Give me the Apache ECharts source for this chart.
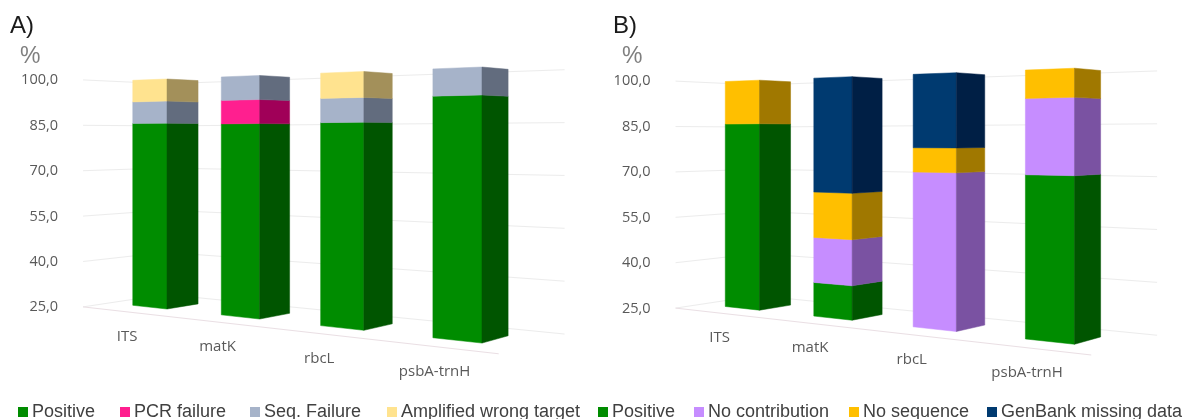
<!DOCTYPE html>
<html>
<head>
<meta charset="utf-8">
<style>
  html, body { margin: 0; padding: 0; background: #fff; }
  #main { width: 1189px; height: 419px; }
</style>
<script src="https://cdn.jsdelivr.net/npm/echarts@6/dist/echarts.min.js"></script>
</head>
<body>
<div id="main"></div>
<script>
// data
const categories = ['ITS', 'matK', 'rbcL', 'psbA-trnH']
const tickValues = [25, 40, 55, 70, 85, 100]

// panel A
const positiveA = [85.6, 85.2, 85.3, 92.4]
const pcrFailureA = [0, 7.4, 0, 0]
const seqFailureA = [7.2, 7.4, 7.2, 7.6]
const wrongTargetA = [7.2, 0, 7.5, 0]

// panel B
const positiveB = [85.8, 35.6, 0, 70.8]
const noContributionB = [0, 14.2, 71, 21.3]
const noSequenceB = [14.2, 14.3, 7.2, 7.9]
const genBankMissingB = [0, 35.9, 21.8, 0]

// front / side colours per segment
const colors = {
    'Positive': ['#008c00', '#005500'],
    'PCR failure': ['#ff1f8f', '#a00058'],
    'Seq. Failure': ['#a6b3c9', '#626c7e'],
    'Amplified wrong target': ['#ffe38f', '#a3905a'],
    'No contribution': ['#c68dff', '#7a52a2'],
    'No sequence': ['#ffbf00', '#a07800'],
    'GenBank missing data': ['#003a70', '#001f45']
}

// 3d look: perspective fitted on the picture, u runs along the categories, v goes into depth
const BAND = 78.2, X0 = 167, BAR_U = 0.4
const FLOOR = { uMin: -0.676, uMax: 3.3, vFront: -0.81, vBack: 1.79 }

function project(panel, pos, du, v) {
    const X = pos[0] - panel.ox + BAND * du
    const u = (X - X0) / BAND
    const Y = 79 + (pos[1] - panel.oy - 80) * 230 / 227.3
    const w = 1 - 0.0556 * u + 0.03 * v
    return [(X + 37 * v) / w + panel.ox, (Y - 7.72 * u + 4 * v) / w + panel.oy]
}

// one stacked segment as two faces
function barItem(panel, name) {
    return function (params, api) {
        const i = api.value(0), from = api.value(1), to = api.value(2)
        if (to <= from) return null
        const a = api.coord([i, from]), b = api.coord([i, to])
        const frontPts = [project(panel, a, -BAR_U, 0), project(panel, a, 0, 0), project(panel, b, 0, 0), project(panel, b, -BAR_U, 0)]
        const sidePts = [project(panel, a, 0, 0), project(panel, a, 0, 1), project(panel, b, 0, 1), project(panel, b, 0, 0)]
        const c = colors[name]
        return {
            type: 'group',
            children: [
                { type: 'polygon', shape: { points: frontPts }, style: { fill: c[0], stroke: c[0], lineWidth: 0.5 } },
                { type: 'polygon', shape: { points: sidePts }, style: { fill: c[1], stroke: c[1], lineWidth: 0.5 } }
            ]
        }
    }
}

// wall grid lines and the front edge of the floor
function wallItem(panel) {
    return function (params, api) {
        const val = api.value(0)
        const p = api.coord([0, val])
        const kids = [{
            type: 'polyline',
            shape: { points: [
                project(panel, p, FLOOR.uMin, FLOOR.vFront),
                project(panel, p, FLOOR.uMin, FLOOR.vBack),
                project(panel, p, FLOOR.uMax, FLOOR.vBack)
            ] },
            style: { fill: 'none', stroke: '#ececec', lineWidth: 1 }
        }]
        if (val === tickValues[0]) {
            kids.push({
                type: 'line',
                shape: (function () {
                    const s = project(panel, p, FLOOR.uMin, FLOOR.vFront), e = project(panel, p, FLOOR.uMax, FLOOR.vFront)
                    return { x1: s[0], y1: s[1], x2: e[0], y2: e[1] }
                })(),
                style: { stroke: '#eadfe4', lineWidth: 1 }
            })
        }
        return { type: 'group', children: kids }
    }
}

// category names lie along the floor
function labelItem(panel) {
    return function (params, api) {
        const i = api.value(0)
        const p = project(panel, api.coord([i, tickValues[0]]), -0.035 * i, -1.2)
        return {
            type: 'text',
            x: p[0], y: p[1] + 21,
            style: { text: categories[i], fill: '#595959', font: '15px "Open Sans"', align: 'center', verticalAlign: 'middle' }
        }
    }
}

// running total per category gives from/to of each segment
function stackSeries(panel, idx, names, arrays) {
    const sum = categories.map(() => 0)
    return arrays.map((arr, k) => {
        const rows = arr.map((val, i) => {
            const from = Math.max(tickValues[0], sum[i])
            sum[i] += val
            return [i, from, Math.max(from, sum[i])]
        })
        return {
            type: 'custom',
            name: names[k],
            xAxisIndex: idx, yAxisIndex: idx,
            itemStyle: { color: colors[names[k]][0] },
            renderItem: barItem(panel, names[k]),
            encode: { x: 0, y: [1, 2] },
            data: rows,
            z: 3
        }
    })
}

const panelA = { ox: 0, oy: 0 }
const panelB = { ox: 592.5, oy: 1.2 }
const panels = [panelA, panelB]

const namesA = ['Positive', 'PCR failure', 'Seq. Failure', 'Amplified wrong target']
const namesB = ['Positive', 'No contribution', 'No sequence', 'GenBank missing data']
const legendLeft = [18, 120, 250, 387, 598, 694, 849, 987]

const headStyle = { fontSize: 24, fontWeight: 'normal', color: '#1a1a1a', fontFamily: 'Liberation Sans' }
const unitStyle = { fontSize: 23, fontWeight: 'normal', color: '#7f7f7f', fontFamily: 'Liberation Sans' }

const option = {
    backgroundColor: '#fff',
    animation: false,
    textStyle: { fontFamily: 'Liberation Sans' },
    title: [
        { text: 'A)', left: 5, top: 9, textStyle: headStyle },
        { text: 'B)', left: 608, top: 9, textStyle: headStyle },
        { text: '%', left: 15, top: 40, textStyle: unitStyle },
        { text: '%', left: 617, top: 40, textStyle: unitStyle }
    ],
    grid: panels.map(p => ({
        left: X0 - BAND / 2 + p.ox,
        width: BAND * categories.length,
        top: 80 + p.oy,
        height: 227.3
    })),
    xAxis: panels.map((p, i) => ({
        type: 'category',
        gridIndex: i,
        data: categories,
        axisLine: { show: false },
        axisTick: { show: false },
        axisLabel: { show: false }
    })),
    yAxis: panels.map((p, i) => ({
        type: 'value',
        gridIndex: i,
        min: 25,
        max: 100,
        offset: X0 - BAND / 2 - 60,
        axisLine: { show: false },
        axisTick: { show: false },
        splitLine: { show: false },
        axisLabel: {
            customValues: tickValues,
            margin: 2,
            color: '#595959',
            fontSize: 14.5,
            fontFamily: 'Open Sans',
            padding: [2, 0, 0, 0],
            formatter: v => v.toFixed(1).replace('.', ',')
        }
    })),
    legend: namesA.concat(namesB).map((n, i) => ({
        data: [n],
        left: legendLeft[i],
        top: 403,
        padding: 0,
        icon: 'rect',
        itemWidth: 10,
        itemHeight: 10,
        itemGap: 4,
        selectedMode: false,
        textStyle: { fontSize: 18, color: '#404040', fontFamily: 'Liberation Sans', padding: [0, 0, 0, -1] }
    })),
    series: [
        ...panels.map((p, i) => ({
            type: 'custom', xAxisIndex: i, yAxisIndex: i, z: 1, silent: true,
            renderItem: wallItem(p), encode: { y: 0 }, data: tickValues.map(v => [v])
        })),
        ...panels.map((p, i) => ({
            type: 'custom', xAxisIndex: i, yAxisIndex: i, z: 2, silent: true,
            renderItem: labelItem(p), encode: { x: 0 }, data: categories.map((c, k) => [k])
        })),
        ...stackSeries(panelA, 0, namesA, [positiveA, pcrFailureA, seqFailureA, wrongTargetA]),
        ...stackSeries(panelB, 1, namesB, [positiveB, noContributionB, noSequenceB, genBankMissingB])
    ]
}

const mychart = echarts.init(document.getElementById('main'))
mychart.setOption(option)
</script>
</body>
</html>
